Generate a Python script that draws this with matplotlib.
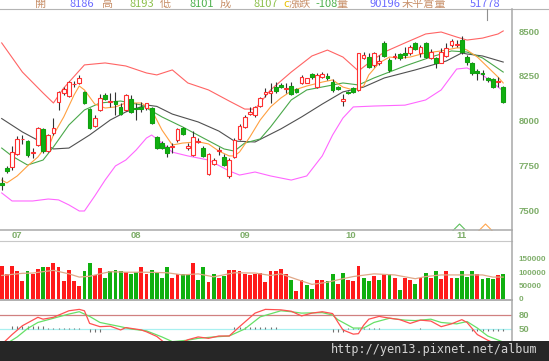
import matplotlib
matplotlib.use("Agg")
import matplotlib.pyplot as plt
from matplotlib.lines import Line2D
from matplotlib.patches import Rectangle

# ---- daily candles (index 0..97) ----
opens = [7650, 7734, 7743, 7814, 7895, 7887, 7820, 7864, 7952, 7832,
         7929, 8106, 8153, 8138, 8203, 8209, 8159, 8064, 7972, 8060,
         8144, 8102, 8110, 8078, 8060, 8120, 8072, 8078, 8069, 8069,
         7911, 7874, 7851, 7851, 7892, 7957, 7846, 7808, 7882, 7846,
         7702, 7758, 7830, 7799, 7691, 7799, 7898, 7963, 8036, 8032,
         8082, 8148, 8157, 8190, 8200, 8178, 8194, 8176, 8209, 8213,
         8260, 8187, 8246, 8248, 8218, 8190, 8112, 8162, 8185, 8172,
         8349, 8358, 8312, 8321, 8436, 8340, 8355, 8373, 8380, 8377,
         8436, 8377, 8433, 8349, 8349, 8324, 8362, 8423, 8422, 8451,
         8355, 8324, 8280, 8268, 8240, 8232, 8215, 8186]
highs = [7687, 7747, 7859, 7914, 7920, 7892, 7846, 7966, 7957, 7926,
         8013, 8168, 8190, 8224, 8222, 8256, 8166, 8069, 8032, 8148,
         8153, 8157, 8162, 8097, 8150, 8144, 8101, 8106, 8101, 8078,
         7914, 7885, 7864, 7874, 7957, 7966, 7874, 7942, 7902, 7858,
         7818, 7790, 7855, 7814, 7790, 7902, 7980, 8030, 8078, 8082,
         8134, 8181, 8209, 8218, 8209, 8212, 8218, 8185, 8256, 8240,
         8268, 8268, 8274, 8265, 8232, 8196, 8149, 8168, 8190, 8380,
         8386, 8377, 8386, 8367, 8447, 8349, 8380, 8380, 8414, 8423,
         8442, 8423, 8440, 8399, 8358, 8405, 8433, 8455, 8451, 8474,
         8367, 8330, 8287, 8284, 8246, 8237, 8246, 8193]
lows = [7612, 7706, 7724, 7808, 7870, 7799, 7790, 7858, 7821, 7827,
        7920, 8060, 8144, 8134, 8187, 8205, 8093, 7952, 7966, 8056,
        8116, 8078, 8032, 8032, 8055, 8045, 8004, 8050, 8060, 7982,
        7840, 7840, 7799, 7821, 7883, 7920, 7836, 7803, 7874, 7799,
        7696, 7752, 7808, 7747, 7678, 7790, 7892, 7958, 8030, 8022,
        8075, 8134, 8097, 8157, 8181, 8153, 8144, 8155, 8205, 8210,
        8235, 8181, 8237, 8228, 8162, 8170, 8082, 8150, 8157, 8166,
        8343, 8293, 8302, 8312, 8355, 8274, 8343, 8340, 8349, 8367,
        8395, 8355, 8350, 8343, 8293, 8321, 8358, 8414, 8414, 8371,
        8312, 8256, 8228, 8228, 8218, 8181, 8190, 8101]
closes = [7639, 7719, 7823, 7899, 7900, 7808, 7826, 7961, 7832, 7920,
          7957, 8160, 8177, 8216, 8207, 8237, 8101, 7957, 8017, 8125,
          8121, 8108, 8095, 8037, 8144, 8050, 8066, 8065, 8097, 7989,
          7846, 7846, 7818, 7858, 7952, 7926, 7858, 7911, 7888, 7804,
          7812, 7780, 7835, 7752, 7780, 7892, 7972, 8019, 8050, 8075,
          8125, 8159, 8165, 8168, 8187, 8184, 8149, 8162, 8243, 8237,
          8243, 8256, 8261, 8240, 8172, 8176, 8120, 8157, 8162, 8377,
          8367, 8302, 8377, 8336, 8362, 8284, 8360, 8349, 8367, 8414,
          8399, 8414, 8355, 8386, 8321, 8386, 8405, 8447, 8429, 8386,
          8330, 8265, 8268, 8260, 8230, 8190, 8222, 8107]

# ---- volume (thousands) and up/down flag ----
volume = [125, 96, 125, 104, 70, 104, 93, 112, 121, 119,
          137, 121, 67, 108, 70, 51, 104, 134, 90, 117,
          81, 105, 111, 106, 103, 94, 101, 119, 94, 111,
          103, 81, 122, 79, 94, 94, 94, 137, 74, 121,
          63, 94, 81, 88, 109, 109, 104, 94, 89, 94,
          99, 64, 104, 104, 114, 96, 73, 33, 74, 53,
          40, 74, 74, 70, 94, 56, 99, 74, 68, 123,
          78, 70, 87, 74, 96, 94, 78, 36, 81, 74,
          59, 78, 99, 81, 104, 77, 104, 78, 81, 104,
          84, 104, 94, 77, 78, 77, 89, 96]
vol_up = "RRRRRGRRGRRRRRRRGGRRGGGGRGGRRGGGGRRGGRGGRGRGRRRRRR" \
         "RRRRRRGRRGGRRGGRGRRRGGRGRGRGRRGRGRGRRRGGGGRGGGRG"

# ---- overlay lines: (bar index, value) ----
upper_idx = [0, 4, 8, 10, 12, 16, 20, 24, 28, 30, 33, 36, 40, 44, 47, 49, 52,
             56, 60, 63, 66, 69, 71, 74, 78, 82, 85, 88, 90, 93, 96, 97]
upper_val = [8435, 8272, 8155, 8099, 8183, 8312, 8323, 8306, 8267, 8256, 8284,
             8211, 8172, 8110, 8065, 8065, 8172, 8272, 8362, 8395, 8356, 8278,
             8323, 8384, 8435, 8485, 8496, 8468, 8451, 8462, 8485, 8502]
lower_idx = [0, 2, 6, 9, 11, 13, 15, 16, 18, 20, 22, 24, 26, 28, 29, 31, 33,
             36, 40, 44, 46, 49, 52, 56, 59, 62, 64, 66, 68, 72, 78, 82, 85,
             88, 90, 93, 95, 97]
lower_val = [7596, 7551, 7551, 7562, 7557, 7529, 7495, 7495, 7579, 7668, 7747,
             7780, 7836, 7903, 7920, 7875, 7824, 7803, 7780, 7719, 7696, 7713,
             7691, 7668, 7691, 7803, 7920, 8015, 8077, 8082, 8087, 8116, 8172,
             8289, 8295, 8256, 8211, 8166]
ma_long_idx = [0, 4, 8, 10, 13, 17, 21, 24, 28, 30, 33, 38, 42, 45, 49, 54,
               58, 62, 66, 70, 74, 80, 86, 89, 90, 93, 97]
ma_long_val = [8012, 7937, 7875, 7842, 7847, 7920, 8004, 8049, 8088, 8080,
               8037, 7993, 7942, 7886, 7881, 7954, 8021, 8093, 8161, 8188,
               8239, 8284, 8334, 8379, 8373, 8362, 8328]
ma_mid_idx = [0, 2, 5, 8, 10, 13, 16, 19, 23, 27, 31, 35, 39, 43, 45, 47, 50,
              52, 56, 59, 63, 66, 69, 72, 78, 83, 87, 90, 93, 97]
ma_mid_val = [7847, 7802, 7752, 7780, 7853, 7976, 8060, 8099, 8110, 8088,
              8021, 7965, 7903, 7842, 7830, 7875, 7898, 7965, 8116, 8172,
              8194, 8211, 8200, 8239, 8306, 8356, 8390, 8384, 8351, 8272]
ma_short_idx = [0, 1, 3, 5, 7, 8, 9, 10, 12, 14, 15, 16, 18, 20, 22, 24, 27,
                29, 31, 33, 35, 38, 40, 42, 44, 45, 46, 48, 50, 52, 54, 56,
                59, 62, 64, 66, 68, 70, 71, 73, 75, 77, 79, 82, 85, 88, 89,
                90, 92, 94, 96, 97]
ma_short_val = [7668, 7652, 7691, 7747, 7797, 7836, 7847, 7920, 8021, 8144,
                8194, 8172, 8093, 8071, 8077, 8099, 8099, 8060, 7948, 7864,
                7875, 7882, 7870, 7830, 7803, 7803, 7825, 7909, 8004, 8077,
                8127, 8166, 8194, 8216, 8228, 8188, 8172, 8194, 8256, 8323,
                8356, 8350, 8356, 8379, 8390, 8407, 8407, 8395, 8356, 8300,
                8244, 8211]
vol_ma_idx = [0, 4, 6, 10, 13, 15, 17, 19, 21, 24, 28, 32, 35, 38, 41, 45,
              49, 52, 54, 57, 60, 63, 66, 68, 72, 76, 80, 82, 85, 89, 93, 95, 97]
vol_ma_val = [89, 97, 98, 108, 95, 83, 86, 95, 103, 101, 101, 99, 91, 95, 84,
              99, 98, 89, 95, 75, 56, 64, 77, 85, 95, 91, 77, 85, 91, 91, 91,
              83, 83]

# ---- KD ----
k_idx = [0, 2, 4, 6, 7, 8, 10, 13, 15, 16, 17, 19, 21, 23, 24, 27, 28, 30,
         32, 33, 36, 38, 40, 42, 44, 46, 49, 51, 54, 56, 58, 60, 62, 64, 65,
         66, 68, 69, 70, 71, 73, 74, 77, 79, 81, 83, 85, 87, 89, 90, 92, 94,
         96, 97]
k_val = [17, 38, 57, 69, 75, 71, 75, 89, 92, 89, 62, 55, 56, 48, 53, 48, 44,
         34, 16, 12, 27, 33, 30, 35, 35, 55, 84, 92, 91, 88, 78, 84, 87, 83,
         65, 48, 39, 40, 58, 71, 77, 75, 70, 62, 69, 67, 55, 61, 70, 64, 38,
         26, 16, 12]
d_idx = [0, 3, 5, 7, 10, 13, 15, 17, 19, 23, 25, 28, 31, 33, 36, 38, 41, 44,
         47, 50, 54, 56, 58, 62, 64, 65, 68, 70, 72, 75, 78, 80, 83, 85, 88,
         90, 92, 94, 97]
d_val = [12, 33, 51, 64, 73, 82, 87, 77, 64, 55, 50, 46, 33, 23, 26, 30, 33,
         35, 50, 76, 89, 87, 84, 85, 80, 70, 52, 52, 64, 73, 69, 68, 71, 64,
         61, 66, 52, 35, 22]
kd_osc = [0, 0, 6, 6, 6, 6, 6, 6, 6, 2, 2, 2, 2, 2, 2, 2, 0, -6, -6, -6,
          1, 1, 1, 1, 1, 1, 1, 1, 1, 1, 1, 1, 0, 0, 0, 0, 0, 0, 0, 0,
          0, 0, 0, 0, 0, 5, 5, 5, 5, 5, 5, 4, 4, 4, 0, 0, 0, 0, 0, 0,
          0, 0, 0, 0, -6, -6, -6, 3, 3, 3, 3, 3, 3, 3, 0, 0, 0, 0, 0, 0,
          0, 2, 0, 0, 0, 0, 0, 0, 0, 0, 0, -5, -5, -5, -5, -5, -5, -5]

signals = [(88.5, "#5cbf5c"), (93.5, "#ffa64d")]
month_pos = [3, 26, 47, 67.5, 89]
month_lab = ["07", "08", "09", "10", "11"]

W, H = 549, 361
fig = plt.figure(figsize=(W / 100, H / 100), dpi=100)
fig.patch.set_facecolor("white")


def px_axes(x0, y0, x1, y1, size):
    a = fig.add_axes([x0 / W, 1 - y1 / H, (x1 - x0) / W, (y1 - y0) / H])
    a.set_xlim(-0.33, 98.7)
    for s in a.spines.values():
        s.set_visible(False)
    a.set_xticks([])
    a.yaxis.tick_right()
    a.tick_params(axis="y", length=0, pad=5, labelsize=size,
                  labelcolor="#7fae6a")
    return a


# ---------------- main price panel ----------------
ax = px_axes(0, 9, 512, 230, 6.8)
ax.set_ylim(7388.7, 8624.7)
ax.set_yticks([7500, 7750, 8000, 8250, 8500])

ax.plot(upper_idx, upper_val, color="#ff6464", lw=0.8, zorder=2)
ax.plot(lower_idx, lower_val, color="#ff66ff", lw=0.8, zorder=2)
ax.plot(ma_long_idx, ma_long_val, color="#505050", lw=0.8, zorder=2)
ax.plot(ma_mid_idx, ma_mid_val, color="#4aa84a", lw=0.8, zorder=2)
ax.plot(ma_short_idx, ma_short_val, color="#ffa040", lw=0.8, zorder=2)

for i, (o, h, l, c) in enumerate(zip(opens, highs, lows, closes)):
    ax.vlines(i, l, h, color="#333333", lw=0.8, zorder=3)
    up = c >= o
    body = max(abs(c - o), 5)
    ax.bar(i, body, bottom=min(o, c), width=0.72,
           color="white" if up else "#10b010",
           edgecolor="#ff3030" if up else "#10a010", lw=0.8, zorder=4)

for sx, sc in signals:
    ax.plot(sx, 7405, marker=[(-1, -0.5), (0, 0.5), (1, -0.5)], ms=10,
            mfc="none", mec=sc, mew=0.8, ls="none", zorder=3)

# ---------------- volume panel ----------------
axv = px_axes(0, 241.5, 512, 299.5, 5.8)
axv.set_ylim(0, 214.8)
axv.set_yticks([3, 50, 100, 150])
axv.set_yticklabels(["0", "50000", "100000", "150000"])
axv.bar(range(len(volume)), volume, width=0.74,
        color=["#ff1a1a" if f == "R" else "#10b010" for f in vol_up])
axv.plot(vol_ma_idx, vol_ma_val, color="#e0a888", lw=0.9)

# ---------------- KD panel ----------------
axk = px_axes(0, 300.5, 512, 361, 6.8)
axk.set_ylim(-18.5, 111)
axk.set_yticks([20, 50, 80])
axk.axhline(80, color="#d08080", lw=0.9)
axk.axhline(50, color="#a8f0f0", lw=0.9)
axk.vlines([i for i, v in enumerate(kd_osc) if v],
           50, [50 + v for v in kd_osc if v], color="#707070", lw=0.8)
axk.plot(d_idx, d_val, color="#66e066", lw=0.9)
axk.plot(k_idx, k_val, color="#ff5050", lw=0.9)

for a in (ax, axv, axk):
    for t in a.get_yticklabels():
        t.set_fontfamily("Liberation Sans")
        t.set_fontweight("bold")

# ---------------- frame lines ----------------
def hline(y, x0, x1, c, lw):
    fig.add_artist(Line2D([x0 / W, x1 / W], [1 - y / H, 1 - y / H],
                          color=c, lw=lw))


def vline(x, y0, y1, c, lw):
    fig.add_artist(Line2D([x / W, x / W], [1 - y0 / H, 1 - y1 / H],
                          color=c, lw=lw))


hline(9, 0, W, "#b4b4b4", 0.8)
hline(230, 0, 512, "#b0b0b0", 1.2)
hline(241, 0, 512, "#c8c8c8", 0.8)
hline(299.5, 0, 512, "#b0b0b0", 1.4)
vline(512, 9, 341, "#a8a8a8", 1.1)
vline(487, 9, 20, "#909090", 0.8)

for p, lab in zip(month_pos, month_lab):
    x = (1.7 + 5.17 * p) / W
    fig.text(x, 1 - 236 / H, lab, ha="center", va="center", fontsize=6.8,
             color="#7fae6a", fontweight="bold", family="Liberation Sans")

# ---------------- header ----------------
cjk = ["Noto Sans CJK TC", "DejaVu Sans"]
lab_c = "#c8906a"
header = [
    (35, "開", lab_c), (70, "8186", "#6a6aff"), (101, "高", lab_c),
    (129, "8193", "#8cc04a"), (160, "低", lab_c), (189, "8101", "#4cb04c"),
    (220, "成", lab_c), (253, "8107", "#8cc04a"), (283, "c", "#e8c000"),
    (289, "漲跌", lab_c), (315, "-108", "#4cb04c"), (336, "量", lab_c),
    (370, "90196", "#6a6aff"), (402, "未平倉量", lab_c),
    (470, "51778", "#6a6aff"),
]
for x, s, c in header:
    fig.text(x / W, 1 - 7.2 / H, s, ha="left", va="baseline", fontsize=8,
             color=c, family=cjk)

# ---------------- watermark strip ----------------
fig.add_artist(Rectangle((0, 0), 1, 1 - 340.5 / H, transform=fig.transFigure,
                         facecolor="#262626", edgecolor="none", zorder=5))
fig.text(537 / W, 1 - 349.5 / H, "http://yen13.pixnet.net/album", ha="right",
         va="center", fontsize=8.5, color="#d4d4d4",
         family="DejaVu Sans Mono", zorder=6)

fig.savefig("out.png", dpi=100)
